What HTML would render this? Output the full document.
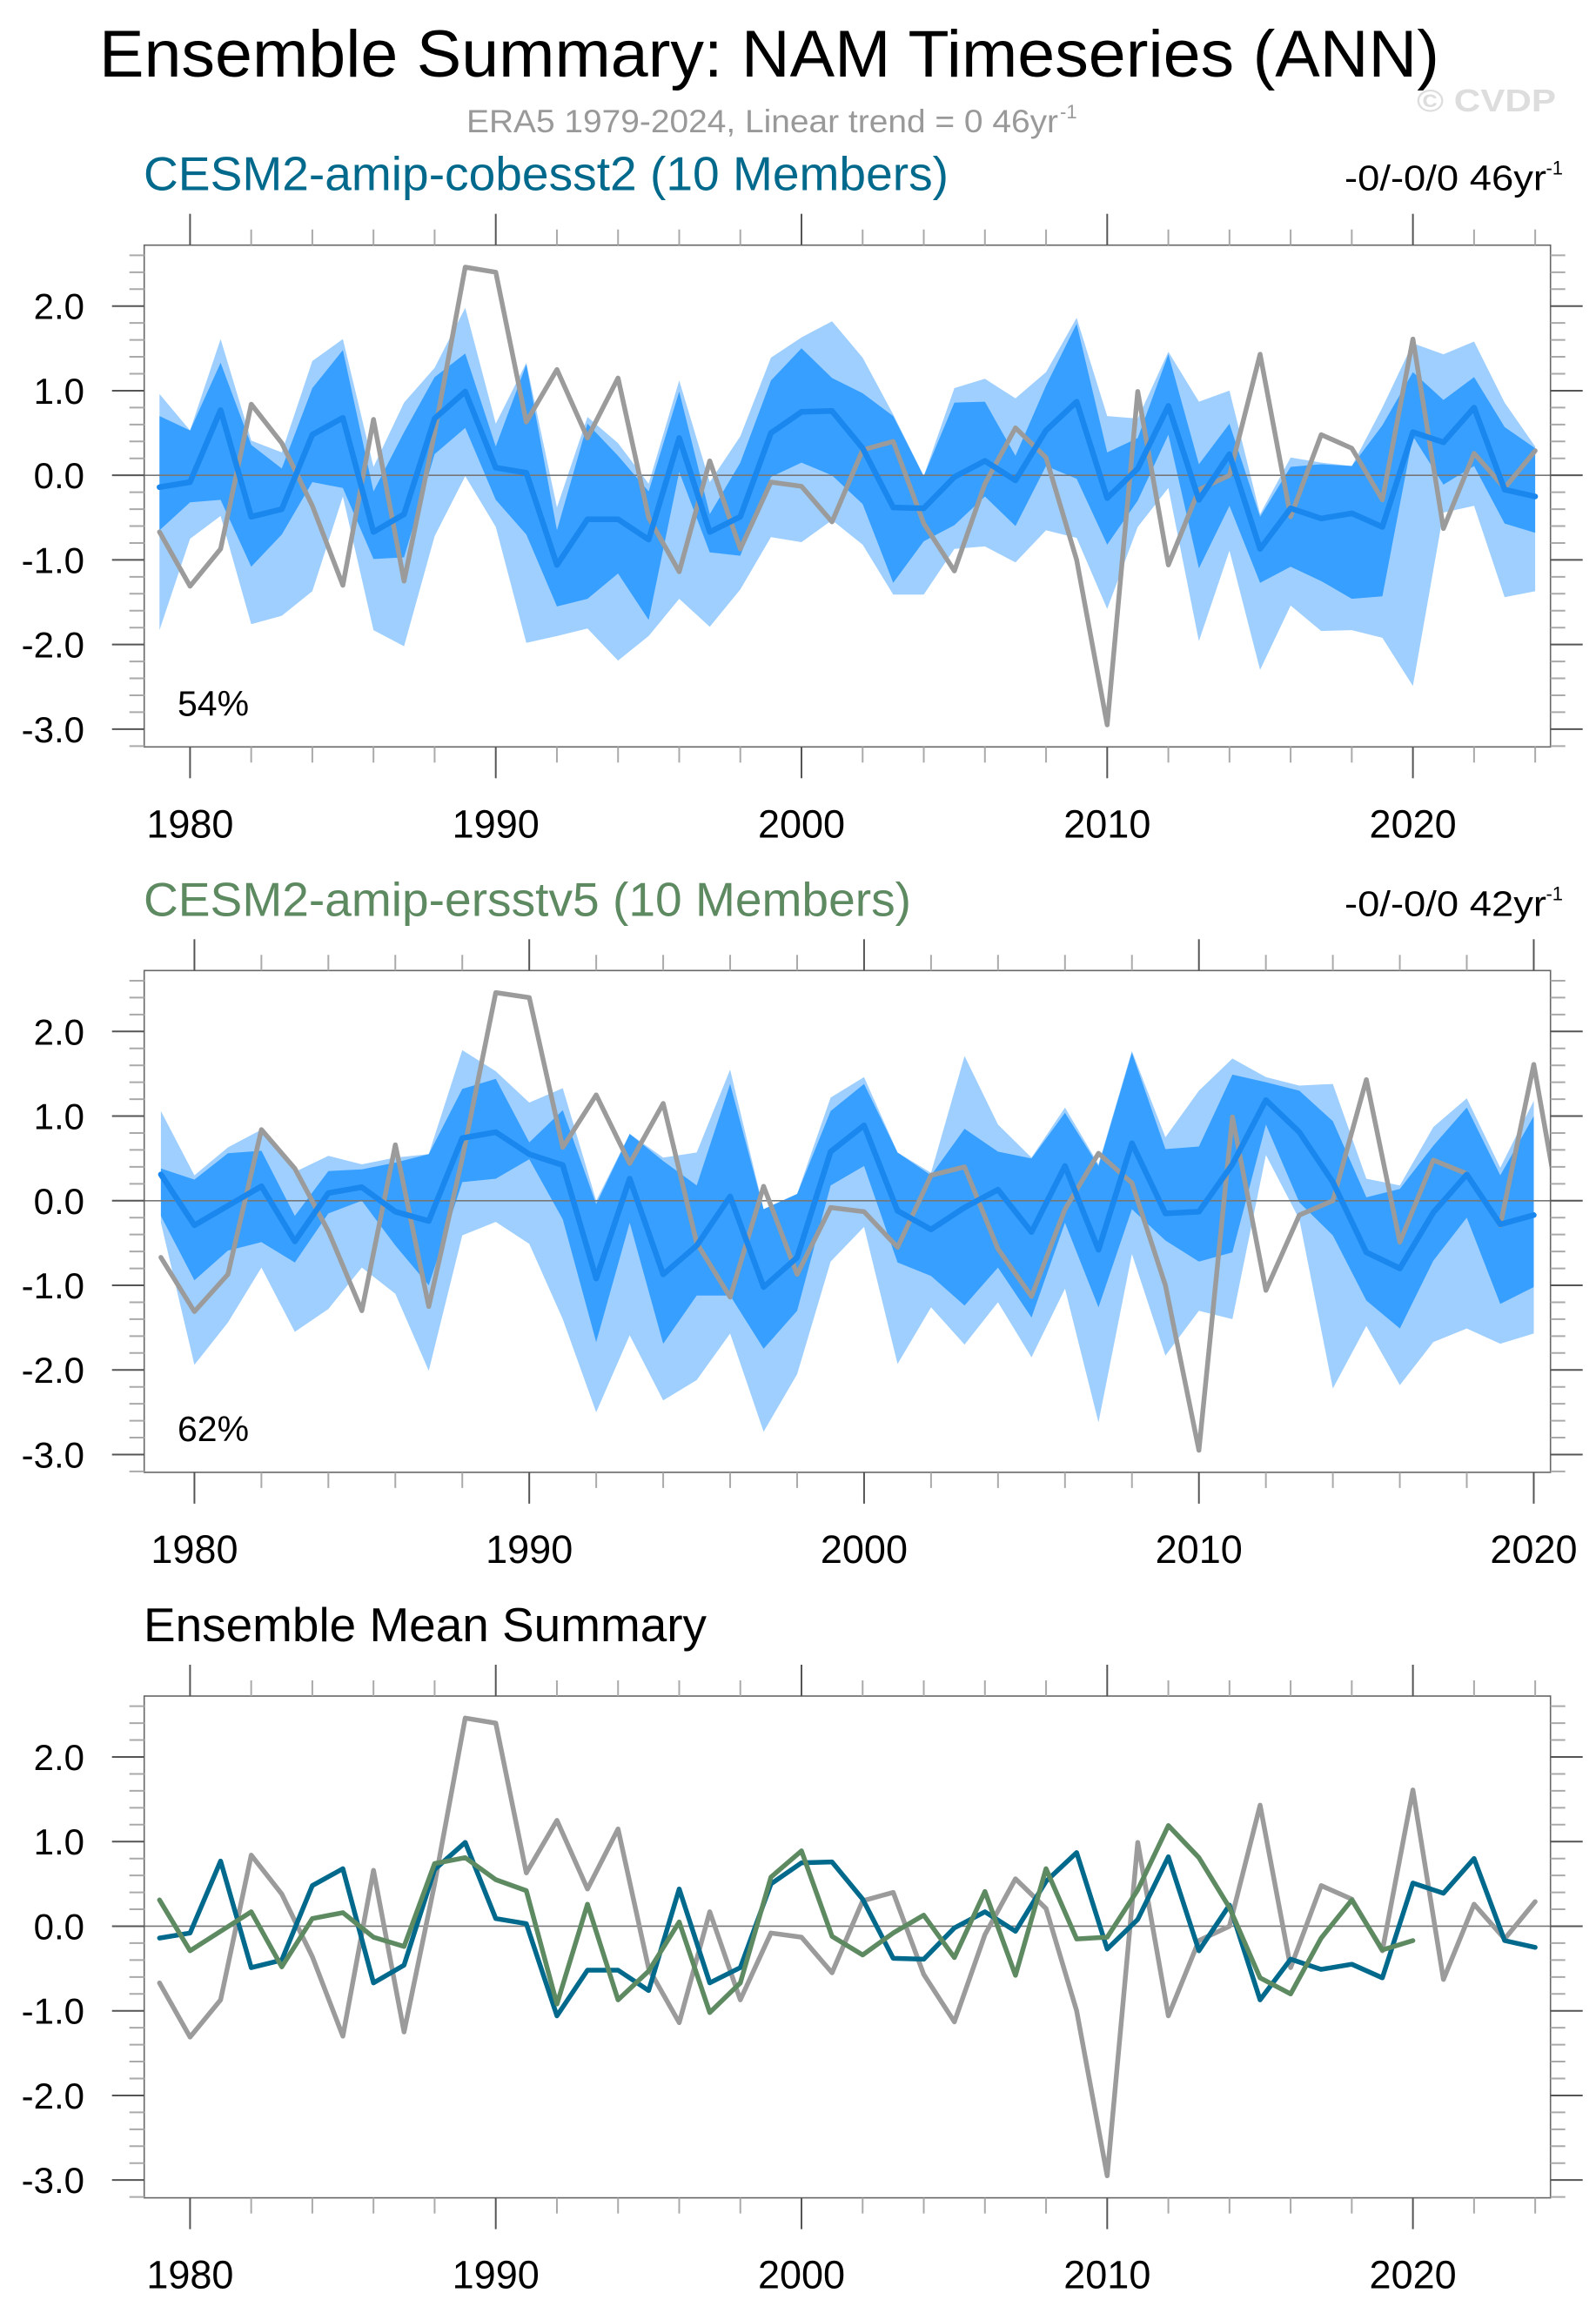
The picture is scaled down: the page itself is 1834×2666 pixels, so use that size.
<!DOCTYPE html>
<html><head><meta charset="utf-8"><title>Ensemble Summary: NAM Timeseries (ANN)</title>
<style>
html,body{margin:0;padding:0;background:#fff;}
svg{display:block;}
text{font-family:"Liberation Sans",Arial,sans-serif;}
</style></head>
<body>
<svg id="chart" xmlns="http://www.w3.org/2000/svg" width="1834" height="2666" viewBox="0 0 1834 2666">
<text x="114" y="88" font-size="76" fill="#000" textLength="1540" lengthAdjust="spacingAndGlyphs">Ensemble Summary: NAM Timeseries (ANN)</text>
<text x="536" y="152" font-size="37" fill="#999" textLength="680" lengthAdjust="spacingAndGlyphs">ERA5 1979-2024, Linear trend = 0 46yr</text>
<text x="1218" y="136" font-size="22" fill="#999">-1</text>
<text x="1628" y="128" font-size="36" font-weight="bold" fill="#ddd" textLength="160" lengthAdjust="spacingAndGlyphs">© CVDP</text>
<g id="plots"></g>
</svg>
<script>
// ===== Data =====
const years1 = [1979,1980,1981,1982,1983,1984,1985,1986,1987,1988,1989,1990,1991,1992,1993,1994,1995,1996,1997,1998,1999,2000,2001,2002,2003,2004,2005,2006,2007,2008,2009,2010,2011,2012,2013,2014,2015,2016,2017,2018,2019,2020,2021,2022,2023,2024];
const era5 = [-0.67,-1.31,-0.87,0.84,0.38,-0.36,-1.30,0.66,-1.25,0.5,2.46,2.40,0.63,1.25,0.44,1.15,-0.5,-1.14,0.17,-0.87,-0.08,-0.13,-0.55,0.30,0.40,-0.57,-1.13,-0.10,0.56,0.21,-1.0,-2.95,0.99,-1.06,-0.17,0.0,1.43,-0.49,0.48,0.32,-0.29,1.61,-0.63,0.26,-0.15,0.29];
const m1Mean = [-0.14,-0.08,0.77,-0.49,-0.40,0.48,0.68,-0.67,-0.46,0.67,0.99,0.09,0.03,-1.06,-0.52,-0.52,-0.76,0.44,-0.67,-0.49,0.50,0.75,0.76,0.32,-0.38,-0.39,-0.02,0.17,-0.06,0.53,0.87,-0.27,0.08,0.82,-0.29,0.25,-0.87,-0.39,-0.51,-0.45,-0.61,0.51,0.39,0.80,-0.17,-0.25];
const m1LightUpper = [0.96,0.53,1.61,0.41,0.27,1.35,1.61,0.10,0.86,1.27,1.98,0.61,1.33,-0.38,0.69,0.38,-0.10,1.12,-0.08,0.46,1.39,1.63,1.82,1.39,0.72,-0.01,1.03,1.14,0.91,1.22,1.86,0.70,0.67,1.46,0.87,1.00,-0.46,0.21,0.15,0.11,0.80,1.56,1.43,1.58,0.86,0.34];
const m1DarkUpper = [0.70,0.53,1.33,0.36,0.08,1.03,1.48,-0.19,0.51,1.16,1.44,0.34,1.31,-0.65,0.61,0.23,-0.19,0.99,-0.46,0.15,1.12,1.50,1.15,0.97,0.70,-0.01,0.86,0.87,0.23,1.06,1.79,0.27,0.44,1.43,0.13,0.61,-0.49,0.10,0.13,0.11,0.59,1.22,0.89,1.16,0.57,0.32];
const m1DarkLower = [-0.65,-0.32,-0.29,-1.08,-0.70,-0.08,-0.15,-0.99,-0.97,0.25,0.56,-0.29,-0.70,-1.55,-1.46,-1.16,-1.71,0.04,-0.91,-0.95,-0.02,0.15,0.0,-0.34,-1.27,-0.78,-0.59,-0.25,-0.60,0.11,-0.04,-0.82,-0.30,0.48,-1.10,-0.36,-1.27,-1.08,-1.25,-1.46,-1.43,0.46,-0.11,0.11,-0.57,-0.68];
const m1LightLower = [-1.83,-0.75,-0.48,-1.76,-1.66,-1.37,-0.25,-1.83,-2.02,-0.72,-0.01,-0.61,-1.98,-1.90,-1.81,-2.19,-1.90,-1.46,-1.79,-1.35,-0.73,-0.79,-0.53,-0.82,-1.41,-1.41,-0.87,-0.84,-1.03,-0.65,-0.74,-1.58,-0.61,-0.15,-1.96,-0.89,-2.30,-1.54,-1.84,-1.83,-1.92,-2.49,-0.44,-0.36,-1.44,-1.37];

const years2 = [1979,1980,1981,1982,1983,1984,1985,1986,1987,1988,1989,1990,1991,1992,1993,1994,1995,1996,1997,1998,1999,2000,2001,2002,2003,2004,2005,2006,2007,2008,2009,2010,2011,2012,2013,2014,2015,2016,2017,2018,2019,2020];
const m2Mean = [0.31,-0.29,-0.06,0.17,-0.48,0.09,0.16,-0.13,-0.24,0.74,0.81,0.55,0.42,-0.92,0.26,-0.87,-0.53,0.05,-1.02,-0.67,0.58,0.89,-0.12,-0.34,-0.08,0.13,-0.37,0.41,-0.58,0.68,-0.15,-0.13,0.43,1.19,0.81,0.22,-0.61,-0.80,-0.14,0.31,-0.28,-0.17];
const m2LightUpper = [1.06,0.30,0.63,0.84,0.34,0.53,0.43,0.51,0.55,1.78,1.53,1.16,1.33,0.0,0.79,0.51,0.57,1.55,-0.10,0.08,1.22,1.46,0.57,0.33,1.71,0.90,0.51,1.10,0.43,1.77,0.75,1.30,1.68,1.46,1.36,1.38,0.26,0.18,0.87,1.21,0.39,1.18];
const m2DarkUpper = [0.38,0.25,0.56,0.59,-0.18,0.35,0.37,0.45,0.55,1.32,1.44,0.69,1.07,-0.04,0.79,0.47,0.18,1.38,-0.10,0.08,1.06,1.38,0.57,0.30,0.85,0.58,0.50,1.04,0.41,1.75,0.61,0.64,1.49,1.40,1.30,0.94,0.04,0.14,0.65,1.10,0.30,1.00];
const m2DarkLower = [-0.18,-0.94,-0.59,-0.49,-0.73,-0.15,0.0,-0.53,-1.00,0.22,0.26,0.49,-0.22,-1.67,-0.26,-1.69,-1.12,-1.12,-1.75,-1.30,0.18,0.41,-0.73,-0.89,-1.24,-0.79,-1.38,-0.26,-1.26,-0.10,-0.47,-0.72,-0.61,0.90,-0.02,-0.41,-1.18,-1.51,-0.71,-0.20,-1.22,-1.02];
const m2LightLower = [-0.26,-1.94,-1.44,-0.79,-1.55,-1.28,-0.79,-1.10,-2.01,-0.41,-0.25,-0.51,-1.40,-2.50,-1.59,-2.36,-2.12,-1.57,-2.73,-2.05,-0.72,-0.31,-1.93,-1.26,-1.70,-1.20,-1.85,-1.04,-2.62,-0.63,-1.83,-1.30,-1.40,0.54,-0.22,-2.22,-1.48,-2.18,-1.67,-1.51,-1.69,-1.57];

const yTickValues = [2.0,1.0,0.0,-1.0,-2.0,-3.0];
const yTickLabels = ["2.0","1.0","0.0","-1.0","-2.0","-3.0"];
const xTickYears = [1980,1990,2000,2010,2020];
const xTickLabels = ["1980","1990","2000","2010","2020"];

// ===== Layout =====
const NS = "http://www.w3.org/2000/svg";
const root = document.getElementById('plots');
const FL = 165.7, FR = 1781.7, FH = 576.6, YMAX = 2.72, YMIN = -3.21;
function el(tag, attrs, parent){const e=document.createElementNS(NS,tag);for(const k in attrs)e.setAttribute(k,attrs[k]);(parent||root).appendChild(e);return e;}

function makePanel(idx, top, x0, x1, title, titleColor, titleLen, trend){
  const g = el('g',{});
  
  
  const bot = top + FH;
  const sx = v => FL + (v - x0) / (x1 - x0) * (FR - FL);
  const sy = v => top + (YMAX - v) / (YMAX - YMIN) * FH;
  const clipId = 'clip'+idx;
  const cp = el('clipPath',{id:clipId},g);
  el('rect',{x:FL,y:top,width:FR-FL,height:FH},cp);
  const t = el('text',{x:165,y:top-63,'font-size':55,fill:titleColor,textLength:titleLen,lengthAdjust:'spacingAndGlyphs'},g);
  t.textContent = title;
  
  
  if (trend){
    const tr = el('text',{x:1777,y:top-63,'font-size':41,fill:'#000','text-anchor':'end',textLength:232,lengthAdjust:'spacingAndGlyphs'},g);
    tr.textContent = trend;
    
    
    const ex = el('text',{x:1796,y:top-81,'font-size':22,fill:'#000','text-anchor':'end'},g);
    ex.textContent = '-1';
    
    
  }
  const plot = el('g',{'clip-path':'url(#'+clipId+')'},g);
  return {g, plot, sx, sy, top, bot, x0, x1};
}

function band(p, yrs, up, lo, color, name){
  let pts = [];
  for (let i=0;i<yrs.length;i++) pts.push(p.sx(yrs[i]).toFixed(1)+','+p.sy(up[i]).toFixed(1));
  for (let i=yrs.length-1;i>=0;i--) pts.push(p.sx(yrs[i]).toFixed(1)+','+p.sy(lo[i]).toFixed(1));
  const e = el('polygon',{points:pts.join(' '),fill:color},p.plot);
  
  
}
function line(p, yrs, vals, color, w, name){
  const pts = yrs.map((y,i)=>p.sx(y).toFixed(1)+','+p.sy(vals[i]).toFixed(1)).join(' ');
  const e = el('polyline',{points:pts,fill:'none',stroke:color,'stroke-width':w,'stroke-linejoin':'round','stroke-linecap':'round'},p.plot);
  
  
}
function zero(p){
  const e = el('line',{x1:FL,x2:FR,y1:p.sy(0),y2:p.sy(0),stroke:'#777','stroke-width':1.6},p.plot);
  
  
}
function axes(p, idx){
  const g = p.g;
  const fr = el('rect',{x:FL,y:p.top,width:FR-FL,height:FH,fill:'none',stroke:'#666','stroke-width':1.6},g);
  
  
  for (let k=-16;k<=13;k++){
    const v = k*0.2, y = p.sy(v);
    if (y < p.top-0.5 || y > p.bot+0.5) continue;
    const major = Math.abs(v - Math.round(v)) < 1e-6;
    const L = major ? 37 : 17, c = major ? '#555' : '#aaa';
    el('line',{x1:FL-L,x2:FL,y1:y,y2:y,stroke:c,'stroke-width':2},g);
    el('line',{x1:FR,x2:FR+L,y1:y,y2:y,stroke:c,'stroke-width':2},g);
  }
  yTickValues.forEach((v,i)=>{
    const t = el('text',{x:97,y:p.sy(v)+15,'font-size':42,'text-anchor':'end',fill:'#000'},g);
    t.textContent = yTickLabels[i];
    
    
  });
  for (let yr=1978; yr<=2026; yr+=2){
    const x = p.sx(yr);
    if (x < FL-0.5 || x > FR+0.5) continue;
    const major = yr%10===0;
    const L = major ? 36 : 18, c = major ? '#555' : '#aaa';
    el('line',{x1:x,x2:x,y1:p.top-L,y2:p.top,stroke:c,'stroke-width':2},g);
    el('line',{x1:x,x2:x,y1:p.bot,y2:p.bot+L,stroke:c,'stroke-width':2},g);
  }
  xTickYears.forEach((yr,i)=>{
    const t = el('text',{x:p.sx(yr),y:p.bot+104,'font-size':45,'text-anchor':'middle',fill:'#000'},g);
    t.textContent = xTickLabels[i];
    
    
  });
}
function pctLabel(p, s){
  const t = el('text',{x:204,y:p.bot-36,'font-size':41,fill:'#000'},p.g);
  t.textContent = s;
  
  
}

const LIGHT='#9ecfff', DARK='#379fff', MEAN='#1a87ee', GRAY='#9b9b9b', TEAL='#00698c', GREEN='#5e8a62';

const p1 = makePanel(1, 281.7, 1978.5, 2024.5, 'CESM2-amip-cobesst2 (10 Members)', TEAL, 925, '-0/-0/0 46yr');
band(p1, years1, m1LightUpper, m1LightLower, LIGHT, 'cobesst2-minmax-band');
band(p1, years1, m1DarkUpper, m1DarkLower, DARK, 'cobesst2-spread-band');
zero(p1);
line(p1, years1, era5, GRAY, 5.5, 'era5-line');
line(p1, years1, m1Mean, MEAN, 6.5, 'cobesst2-mean-line');
axes(p1, 1); pctLabel(p1, '54%');

const p2 = makePanel(2, 1115.3, 1978.5, 2020.5, 'CESM2-amip-ersstv5 (10 Members)', GREEN, 882, '-0/-0/0 42yr');
band(p2, years2, m2LightUpper, m2LightLower, LIGHT, 'ersstv5-minmax-band');
band(p2, years2, m2DarkUpper, m2DarkLower, DARK, 'ersstv5-spread-band');
zero(p2);
line(p2, years1, era5, GRAY, 5.5, 'era5-line');
line(p2, years2, m2Mean, MEAN, 6.5, 'ersstv5-mean-line');
axes(p2, 2); pctLabel(p2, '62%');

const p3 = makePanel(3, 1949, 1978.5, 2024.5, 'Ensemble Mean Summary', '#000', 647, null);
zero(p3);
line(p3, years1, era5, GRAY, 5.5, 'era5-line');
line(p3, years1, m1Mean, TEAL, 5.5, 'cobesst2-mean-line');
line(p3, years2, m2Mean, GREEN, 5.5, 'ersstv5-mean-line');
axes(p3, 3);
</script>
</body></html>
